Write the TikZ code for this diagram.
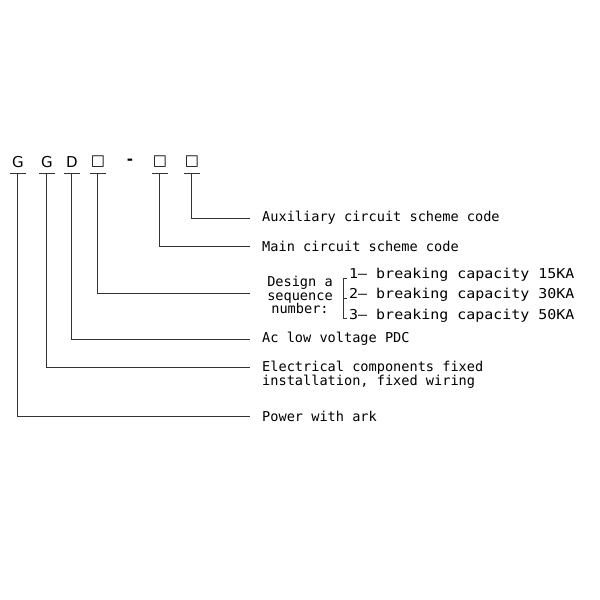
\documentclass[tikz,border=0pt]{standalone}
\usepackage{fontspec}
\setmainfont{DejaVu Sans Mono}
\newfontfamily\hdr{DejaVu Sans}
\begin{document}
\begin{tikzpicture}[x=1pt,y=-1pt,
  ln/.style={line width=0.9pt,draw=black!80},
  lab/.style={anchor=west,inner sep=0pt,font=\fontsize{13.6}{15.5}\selectfont},
  hd/.style={inner sep=0pt,font=\hdr\fontsize{15}{17}\selectfont}]
\useasboundingbox (0,0) rectangle (600,600);
% header
\node[hd] (g1) at (18,162) {G};
\node[hd] (g2) at (47,162) {G};
\node[hd] (d) at (72,162) {D};
\node[hd] (s1) at (98,162) {□};
\node[hd] (da) at (130,162) {\textbf{-}};
\node[hd] (s2) at (160,162) {□};
\node[hd] (s3) at (192,162) {□};
\foreach \n/\x in {g1/18,g2/47,d/72,s1/98,s2/160,s3/192}{
  \draw[ln] (\x-8,173) -- (\x+8,173);
  \coordinate (\n b) at (\x-1,173);
}
% labels
\node[lab] (aux) at (262,218) {Auxiliary circuit scheme code};
\node[lab] (main) at (262,246) {Main circuit scheme code};
\node[lab,align=center,anchor=center] (des) at (300,295) {Design a\\[-2pt]sequence\\[-2pt]number:};
\node[lab] (ac) at (262,339) {Ac low voltage PDC};
\node[lab,align=left] (el) at (262,375) {Electrical components fixed\\[-1pt]installation, fixed wiring};
\node[lab] (pw) at (262,416) {Power with ark};
\begin{scope}[lab/.append style={transform shape,xscale=1.1}]
\node[lab] (r1) at (349,275) {1— breaking capacity 15KA};
\node[lab] (r2) at (349,295) {2— breaking capacity 30KA};
\node[lab] (r3) at (349,316) {3— breaking capacity 50KA};
\end{scope}
% connectors
\draw[ln] (s3b) |- (250,218);
\draw[ln] (s2b) |- (250,246);
\draw[ln] (s1b) |- (250,293);
\draw[ln] (db) |- (250,339);
\draw[ln] (g2b) |- (250,367);
\draw[ln] (g1b) |- (250,416);
% bracket
\draw[ln,line width=0.7pt] (347,278) -- (343,278) -- (343,318) -- (347,318);
\draw[ln,line width=0.7pt] (343,298) -- (347,298);
\end{tikzpicture}
\end{document}
